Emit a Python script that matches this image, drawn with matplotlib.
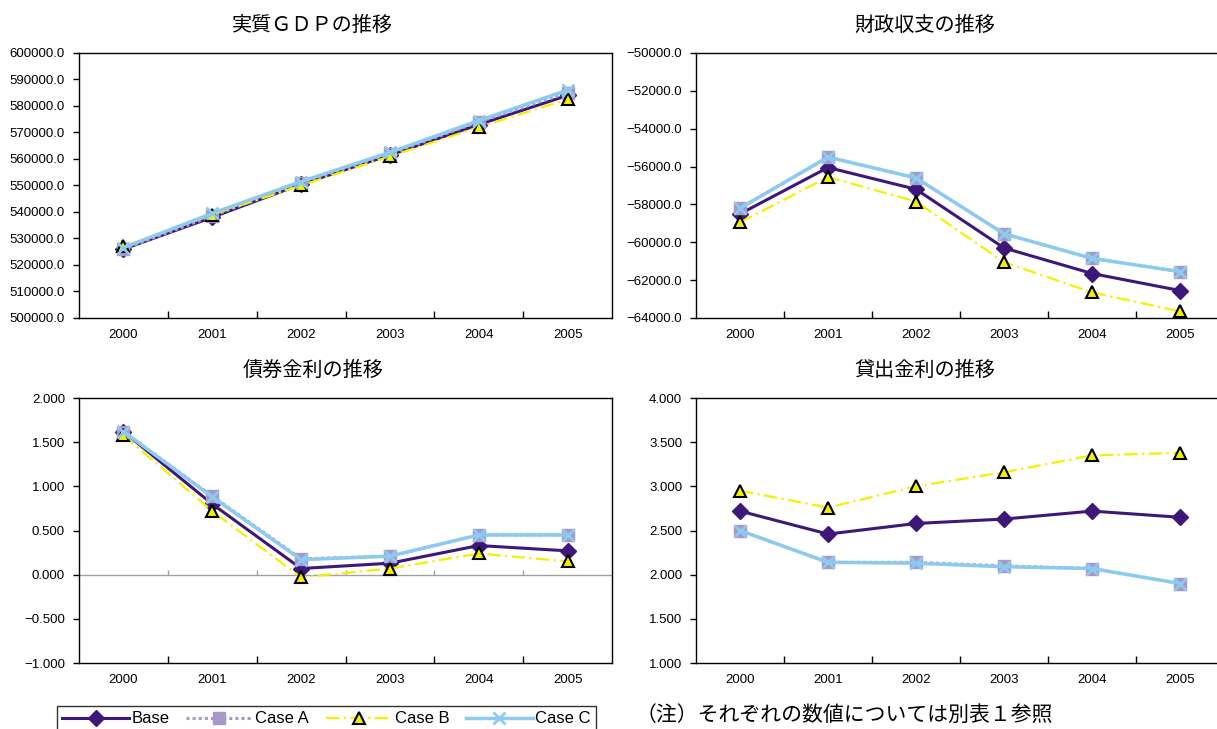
import matplotlib
matplotlib.use("Agg")
import matplotlib.pyplot as plt
from matplotlib.ticker import FixedLocator, FuncFormatter
import numpy as np

plt.rcParams['font.family'] = ['Liberation Sans', 'Noto Sans CJK JP']
plt.rcParams['axes.unicode_minus'] = True

years = ['2000', '2001', '2002', '2003', '2004', '2005']
series_names = ['Base', 'Case A', 'Case B', 'Case C']

# 実質GDP
gdp_base = [526000, 538000, 550500, 561500, 573000, 584000]
gdp_a = [526000, 538500, 551000, 562000, 574000, 585000]
gdp_b = [527000, 539000, 550000, 561000, 572000, 582500]
gdp_c = [526500, 539500, 551500, 562500, 574500, 586000]

# 財政収支
fiscal_base = [-58500, -56050, -57200, -60300, -61650, -62550]
fiscal_a = [-58200, -55500, -56600, -59550, -60850, -61550]
fiscal_b = [-58950, -56550, -57850, -61050, -62650, -63650]
fiscal_c = [-58200, -55500, -56600, -59550, -60850, -61550]

# 債券金利
bond_base = [1.62, 0.80, 0.07, 0.13, 0.33, 0.27]
bond_a = [1.62, 0.89, 0.18, 0.21, 0.45, 0.45]
bond_b = [1.58, 0.72, -0.03, 0.07, 0.24, 0.15]
bond_c = [1.62, 0.88, 0.17, 0.21, 0.45, 0.45]

# 貸出金利
loan_base = [2.72, 2.46, 2.58, 2.63, 2.72, 2.65]
loan_a = [2.50, 2.14, 2.14, 2.10, 2.07, 1.90]
loan_b = [2.95, 2.76, 3.00, 3.16, 3.35, 3.38]
loan_c = [2.50, 2.14, 2.13, 2.09, 2.07, 1.90]

styles = [
    dict(color='#3d1878', lw=2.2, ls='-', marker='D', ms=8,
         mfc='#3d1878', mec='#3d1878'),
    dict(color='#a898c8', lw=2.2, ls=(0, (1, 1)), marker='s', ms=8,
         mfc='#a898c8', mec='#a898c8'),
    dict(color='#f5f000', lw=1.6, ls=(0, (6, 2, 1, 2)), marker='^', ms=9,
         mfc='#f5f000', mec='black', mew=1.5),
    dict(color='#8ccaf0', lw=2.5, ls='-', marker='x', ms=9,
         mfc='#8ccaf0', mec='#8ccaf0', mew=2),
]

fig = plt.figure(figsize=(12.17, 7.29), dpi=100)

# title, series, y ticks, label format, axes rect, title x, title y
panels = [
    ('実質ＧＤＰの推移', [gdp_base, gdp_a, gdp_b, gdp_c],
     np.arange(500000, 600001, 10000), '{:.1f}',
     [0.0649, 0.5638, 0.438, 0.3635], 0.257, 0.965),
    ('財政収支の推移', [fiscal_base, fiscal_a, fiscal_b, fiscal_c],
     np.arange(-64000, -49999, 2000), '{:.1f}',
     [0.5719, 0.5638, 0.4339, 0.3635], 0.760, 0.965),
    ('債券金利の推移', [bond_base, bond_a, bond_b, bond_c],
     np.arange(-1.0, 2.01, 0.5), '{:.3f}',
     [0.0649, 0.0905, 0.438, 0.3635], 0.257, 0.492),
    ('貸出金利の推移', [loan_base, loan_a, loan_b, loan_c],
     np.arange(1.0, 4.01, 0.5), '{:.3f}',
     [0.5719, 0.0905, 0.4339, 0.3635], 0.760, 0.492),
]


def fmt_tick(v, fmt):
    return fmt.format(v).replace('-', '\u2212')


x = np.arange(len(years))
handles = []
for title, data, yticks, fmt, rect, tx, ty in panels:
    ax = fig.add_axes(rect)
    handles = []
    for vals, name, st in zip(data, series_names, styles):
        h, = ax.plot(x, vals, label=name, clip_on=False, **st)
        handles.append(h)
    ax.set_xlim(-0.5, len(years) - 0.5)
    ax.set_ylim(yticks[0], yticks[-1])
    ax.set_yticks(yticks)
    ax.yaxis.set_major_formatter(FuncFormatter(lambda v, p, f=fmt: fmt_tick(v, f)))
    ax.set_xticks(x)
    ax.set_xticklabels(years)
    ax.xaxis.set_minor_locator(FixedLocator(np.arange(0.5, len(years) - 1, 1.0)))
    ax.tick_params(axis='x', which='major', length=0, pad=8, labelsize=9.5)
    ax.tick_params(axis='x', which='minor', direction='in', length=5, width=1)
    ax.tick_params(axis='y', direction='out', length=4, width=1, pad=6, labelsize=9.5)
    for sp in ax.spines.values():
        sp.set_linewidth(1.0)
        sp.set_color('black')
    if yticks[0] < 0 < yticks[-1]:
        ax.axhline(0, color='#a0a0a0', lw=1, zorder=0.5)
        ax.vlines(np.arange(0.5, len(years) - 1, 1.0), 0, 0.05, color='#a0a0a0', lw=1, zorder=0.5)
    fig.text(tx, ty, title, fontsize=14.5, ha='center', va='center')

leg = fig.legend(handles, series_names, loc='upper left',
                 bbox_to_anchor=(0.047, 0.031), ncol=4, fontsize=12,
                 handlelength=4.0, handletextpad=0.15, columnspacing=1.0,
                 frameon=True, fancybox=False, borderpad=0.3, borderaxespad=0)
leg.get_frame().set_edgecolor('black')
leg.get_frame().set_linewidth(1.0)

fig.text(0.522, 0.019, '（注）それぞれの数値については別表１参照', fontsize=15,
         va='center', ha='left')

fig.savefig('out.png', dpi=100)
